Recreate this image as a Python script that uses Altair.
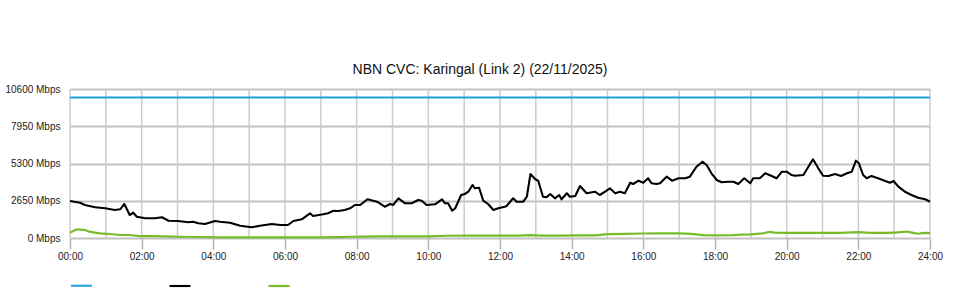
import altair as alt
import pandas as pd

# ---- data ----
series_names = ["Capacity", "Download", "Upload"]
series_colors = ["#1ba0e2", "#000000", "#76bc2a"]

capacity_times = ["00:00", "24:00"]
capacity_vals = [10000, 10000]

down_times = ["00:00", "00:17", "00:25", "00:42", "00:59", "01:15", "01:24", "01:31", "01:40", "01:46",
              "01:52", "02:06", "02:22", "02:34", "02:45", "03:01", "03:18", "03:26", "03:35", "03:46",
              "04:03", "04:11", "04:28", "04:45", "05:04", "05:18", "05:38", "05:52", "06:05", "06:14",
              "06:28", "06:42", "06:47", "07:04", "07:12", "07:21", "07:29", "07:40", "07:49", "07:57",
              "08:06", "08:18", "08:34", "08:47", "08:56", "09:01", "09:10", "09:21", "09:32", "09:43",
              "09:49", "09:57", "10:11", "10:23", "10:28", "10:33", "10:40", "10:45", "10:55", "11:01",
              "11:07", "11:14", "11:18", "11:25", "11:32", "11:40", "11:49", "11:57", "12:08", "12:11",
              "12:22", "12:28", "12:39", "12:45", "12:51", "12:59", "13:04", "13:12", "13:18", "13:24",
              "13:32", "13:39", "13:43", "13:52", "13:57", "14:06", "14:14", "14:25", "14:39", "14:47",
              "14:56", "15:04", "15:13", "15:21", "15:29", "15:38", "15:43", "15:52", "16:00", "16:08",
              "16:14", "16:22", "16:28", "16:39", "16:48", "16:59", "17:10", "17:18", "17:29", "17:39",
              "17:46", "17:54", "18:03", "18:11", "18:22", "18:31", "18:39", "18:49", "18:59", "19:04",
              "19:15", "19:24", "19:35", "19:43", "19:52", "20:00", "20:08", "20:14", "20:28", "20:44",
              "20:53", "21:01", "21:10", "21:21", "21:31", "21:41", "21:49", "21:56", "22:01", "22:08",
              "22:14", "22:22", "22:33", "22:45", "22:53", "22:59", "23:07", "23:18", "23:29", "23:40",
              "23:52", "24:00"]
down_vals = [2632, 2511, 2348, 2184, 2113, 1992, 2042, 2419, 1636, 1800,
             1515, 1401, 1401, 1473, 1231, 1209, 1117, 1160, 1046, 996,
             1209, 1160, 1088, 875, 761, 875, 996, 925, 925, 1209,
             1330, 1757, 1565, 1686, 1757, 1942, 1921, 1992, 2113, 2348,
             2348, 2753, 2582, 2227, 2419, 2348, 2824, 2469, 2469, 2703,
             2653, 2348, 2397, 2753, 2469, 2469, 1942, 2113, 3059, 3130,
             3294, 3770, 3536, 3578, 2653, 2419, 1992, 2113, 2227, 2276,
             2824, 2582, 2582, 2938, 4553, 4176, 4076, 2938, 2895, 3130,
             2824, 3059, 2753, 3180, 2938, 2988, 3699, 3180, 3294, 3059,
             3294, 3536, 3180, 3294, 3180, 3934, 3842, 4076, 3934, 4247,
             3891, 3842, 3891, 4361, 4076, 4247, 4247, 4361, 5072, 5428,
             5193, 4603, 4126, 3962, 4005, 4005, 3842, 4247, 3891, 4247,
             4247, 4603, 4411, 4247, 4717, 4717, 4482, 4432, 4482, 5599,
             4958, 4432, 4411, 4553, 4411, 4603, 4717, 5499, 5314, 4482,
             4247, 4411, 4247, 4055, 3934, 4055, 3650, 3294, 3059, 2867,
             2753, 2582]

up_times = ["00:00", "00:08", "00:14", "00:25", "00:34", "00:50", "01:07", "01:24", "01:40", "01:57",
            "02:22", "02:38", "03:03", "03:36", "04:10", "05:00", "06:00", "07:00", "07:30", "07:50",
            "08:10", "08:40", "09:10", "09:40", "10:00", "10:30", "11:00", "11:30", "12:00", "12:30",
            "12:50", "13:10", "13:40", "14:10", "14:40", "15:00", "15:30", "16:00", "16:30", "17:00",
            "17:20", "17:40", "18:00", "18:30", "18:45", "19:00", "19:20", "19:30", "19:40", "20:00",
            "20:30", "21:00", "21:30", "21:50", "22:00", "22:20", "22:50", "23:05", "23:20", "23:30",
            "23:40", "23:50", "24:00"]
up_vals = [377, 560, 620, 570, 430, 330, 285, 215, 215, 140,
           140, 120, 90, 70, 50, 40, 40, 40, 60, 90,
           100, 110, 110, 110, 120, 160, 170, 170, 170, 170,
           210, 170, 170, 190, 190, 280, 300, 320, 330, 330,
           300, 200, 190, 200, 240, 260, 330, 430, 380, 360,
           370, 370, 370, 400, 420, 370, 370, 400, 460, 380,
           300, 360, 350]

grid_hours = list(range(0, 25))
x_tick_hours = list(range(0, 25, 2))
y_ticks = [0, 2650, 5300, 7950, 10600]
title_text = "NBN CVC: Karingal (Link 2) (22/11/2025)"


def to_hours(t):
    h, m = t.split(":")
    return int(h) + int(m) / 60.0


rows = []
for name, times, vals in [(series_names[0], capacity_times, capacity_vals),
                          (series_names[1], down_times, down_vals),
                          (series_names[2], up_times, up_vals)]:
    for t, v in zip(times, vals):
        rows.append({"series": name, "hour": to_hours(t), "mbps": v})
df = pd.DataFrame(rows)
grid_df = pd.DataFrame({"hour": grid_hours})

FONT = "Liberation Sans"

xscale = alt.Scale(domain=[0, 24], nice=False, zero=False)
yscale = alt.Scale(domain=[0, 10600], nice=False)

vgrid = alt.Chart(grid_df).mark_rule(color="#cccccc", strokeWidth=1.5).encode(
    x=alt.X("hour:Q", scale=xscale,
            axis=alt.Axis(values=x_tick_hours, grid=False, domain=False,
                          tickSize=11, tickColor="#b4b4b4", tickWidth=1.5,
                          labelPadding=2, labelFontSize=10, labelColor="#222222",
                          labelFont=FONT, title=None, labelFlush=False,
                          labelExpr="(datum.value < 10 ? '0' : '') + datum.value + ':00'")),
)

lines = alt.Chart(df).mark_line(strokeJoin="round").encode(
    x=alt.X("hour:Q", scale=xscale),
    y=alt.Y("mbps:Q", scale=yscale,
            axis=alt.Axis(values=y_ticks, grid=True, gridColor="#c2c2c2", gridWidth=2,
                          domain=False, ticks=False, labelPadding=10, labelFontSize=10,
                          labelColor="#222222", labelFont=FONT, title=None,
                          labelExpr="datum.value + ' Mbps'")),
    color=alt.Color("series:N",
                    scale=alt.Scale(domain=series_names, range=series_colors),
                    legend=alt.Legend(orient="none", legendX=0, legendY=185,
                                      direction="horizontal", title=None,
                                      symbolType="stroke", symbolSize=441,
                                      symbolStrokeWidth=2.5, labelExpr="''",
                                      labelOffset=0, columnPadding=69,
                                      labelFontSize=10)),
    strokeWidth=alt.StrokeWidth("series:N",
                                scale=alt.Scale(domain=series_names, range=[2, 2.2, 2.5]),
                                legend=None),
    order=alt.Order("hour:Q"),
)

chart = alt.layer(vgrid, lines).properties(
    width=860, height=149,
    autosize=alt.AutoSizeParams(type="none"),
    padding={"left": 70, "top": 89, "right": 30, "bottom": 62},
    title=alt.TitleParams(title_text, font=FONT, fontSize=14, fontWeight="normal",
                          color="#111111", anchor="middle", dx=-20, offset=7),
    background="white",
).configure_view(stroke=None)

chart.save("out.html", embed_options={"renderer": "svg", "actions": False})
